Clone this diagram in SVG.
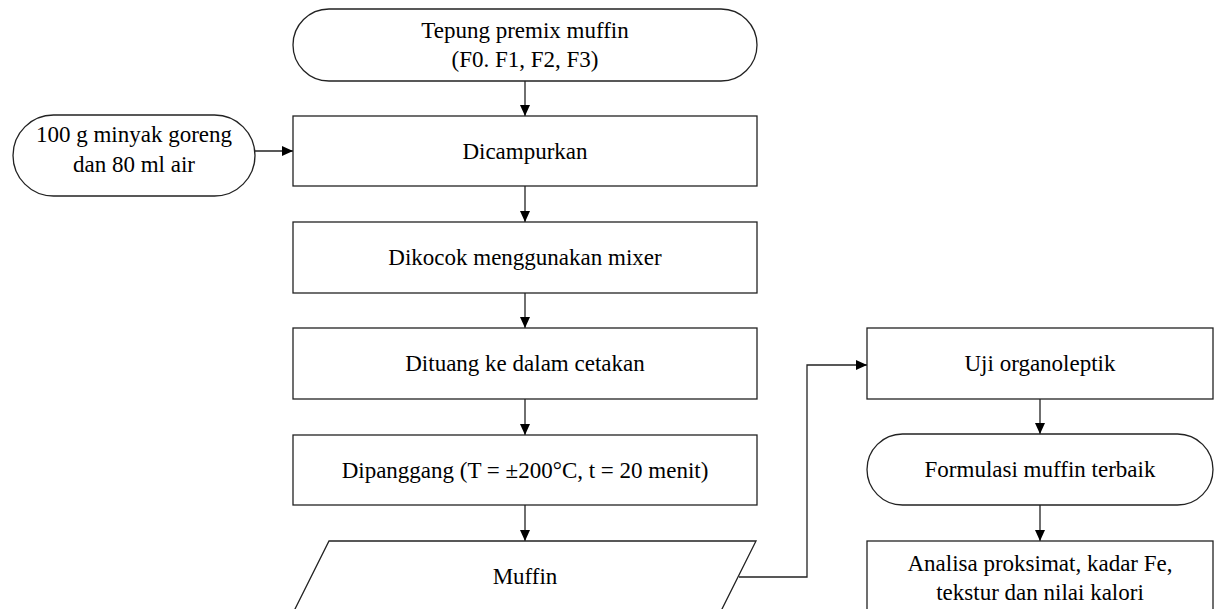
<svg xmlns="http://www.w3.org/2000/svg" width="1214" height="609" viewBox="0 0 1214 609">
<style>
.s{fill:#fff;stroke:#222;stroke-width:1.3}
.t{font-family:"Liberation Serif","Times New Roman",serif;font-size:23px;fill:#000;text-anchor:middle}
.c{fill:none;stroke:#222;stroke-width:1.3}
</style>
<defs>
<marker id="ah" markerUnits="userSpaceOnUse" markerWidth="12" markerHeight="10" refX="11" refY="5" orient="auto">
<path d="M0,0 L11,5 L0,10 Z" fill="#000"/>
</marker>
</defs>
<rect width="1214" height="609" fill="#fff"/>
<g id="connectors">
<line class="c" x1="525" y1="81" x2="525" y2="116" marker-end="url(#ah)"/>
<line class="c" x1="255" y1="151" x2="293" y2="151" marker-end="url(#ah)"/>
<line class="c" x1="525" y1="186" x2="525" y2="222" marker-end="url(#ah)"/>
<line class="c" x1="525" y1="293" x2="525" y2="328" marker-end="url(#ah)"/>
<line class="c" x1="525" y1="399" x2="525" y2="435" marker-end="url(#ah)"/>
<line class="c" x1="525" y1="505" x2="525" y2="541" marker-end="url(#ah)"/>
<polyline class="c" points="739,577 807,577 807,365 867,365" marker-end="url(#ah)"/>
<line class="c" x1="1040" y1="399" x2="1040" y2="434" marker-end="url(#ah)"/>
<line class="c" x1="1040" y1="505" x2="1040" y2="541" marker-end="url(#ah)"/>
</g>
<g id="start">
<rect class="s" x="293" y="9" width="464" height="72" rx="36" ry="36"/>
<text class="t" x="525" y="38">Tepung premix muffin</text>
<text class="t" x="525" y="67">(F0. F1, F2, F3)</text>
</g>
<g id="input">
<rect class="s" x="13" y="115" width="242" height="81" rx="40.5" ry="40.5"/>
<text class="t" x="134" y="142">100 g minyak goreng</text>
<text class="t" x="134" y="172">dan 80 ml air</text>
</g>
<g id="dicampurkan">
<rect class="s" x="293" y="116" width="464" height="70"/>
<text class="t" x="525" y="159">Dicampurkan</text>
</g>
<g id="dikocok">
<rect class="s" x="293" y="222" width="464" height="71"/>
<text class="t" x="525" y="265">Dikocok menggunakan mixer</text>
</g>
<g id="dituang">
<rect class="s" x="293" y="328" width="464" height="71"/>
<text class="t" x="525" y="371">Dituang ke dalam cetakan</text>
</g>
<g id="dipanggang">
<rect class="s" x="293" y="435" width="464" height="70"/>
<text class="t" x="525" y="478">Dipanggang (T = ±200°C, t = 20 menit)</text>
</g>
<g id="muffin">
<polygon class="s" points="329,541 756,541 720,613 293,613"/>
<text class="t" x="525" y="584">Muffin</text>
</g>
<g id="uji">
<rect class="s" x="867" y="328" width="346" height="71"/>
<text class="t" x="1040" y="371">Uji organoleptik</text>
</g>
<g id="formulasi">
<rect class="s" x="867" y="434" width="346" height="71" rx="35.5" ry="35.5"/>
<text class="t" x="1040" y="477">Formulasi muffin terbaik</text>
</g>
<g id="analisa">
<rect class="s" x="867" y="541" width="346" height="75"/>
<text class="t" x="1040" y="571">Analisa proksimat, kadar Fe,</text>
<text class="t" x="1040" y="600">tekstur dan nilai kalori</text>
</g>
</svg>
